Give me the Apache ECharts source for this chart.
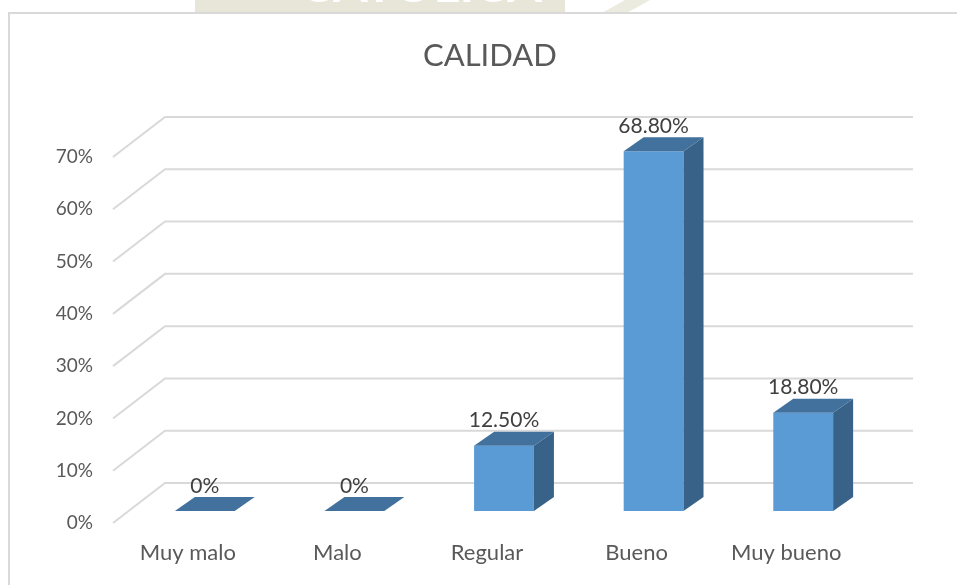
<!DOCTYPE html>
<html>
<head>
<meta charset="utf-8">
<script src="https://cdn.jsdelivr.net/npm/echarts@6/dist/echarts.min.js"></script>
<style>html,body{margin:0;padding:0;background:#fff;}#c{width:957px;height:585px;}</style>
</head>
<body>
<div id="c"></div>
<script>
const titleText = 'CALIDAD';
const categories = ['Muy malo', 'Malo', 'Regular', 'Bueno', 'Muy bueno'];
const values = [0, 0, 0.125, 0.688, 0.188];
const valueLabels = ['0%', '0%', '12.50%', '68.80%', '18.80%'];
const yTicks = [0, 0.1, 0.2, 0.3, 0.4, 0.5, 0.6, 0.7];
const yTickLabels = ['0%', '10%', '20%', '30%', '40%', '50%', '60%', '70%'];

const FONT = 'Lato, "Open Sans", sans-serif';
const WALL = [52, -40];      // depth of the floor (front plane -> back wall)
const BAR_FRONT = [17, -12]; // bar front face offset from front plane
const BAR_DEPTH = [20, -14]; // bar depth

const chart = echarts.init(document.getElementById('c'), null, {renderer: 'canvas'});

const option = {
  backgroundColor: '#ffffff',
  animation: false,
  title: {
    text: titleText,
    left: 423,
    top: 40,
    padding: 0,
    textStyle: {color: '#595959', fontSize: 31, fontWeight: 'normal', fontFamily: FONT}
  },
  graphic: [
    {type: 'rect', silent: true, shape: {x: 195, y: 0, width: 370, height: 14}, style: {fill: '#e7e6d9'}},
    {type: 'text', silent: true, x: 300, y: 11, style: {text: 'CATOLICA', fill: '#ffffff', font: 'bold 50px ' + FONT, textVerticalAlign: 'bottom'}},
    {type: 'polygon', silent: true, shape: {points: [[600, 14], [625, 0], [650, 0], [625, 14]]}, style: {fill: '#ecebe0'}},
    {type: 'rect', silent: true, shape: {x: 9, y: 13, width: 960, height: 590}, style: {fill: '#ffffff', stroke: '#d9d9d9', lineWidth: 2}}
  ],
  grid: {left: 113, right: 96, top: 157, bottom: 62},
  xAxis: {
    type: 'category',
    data: categories,
    axisLine: {show: false},
    axisTick: {show: false},
    splitLine: {show: false},
    axisLabel: {color: '#595959', fontSize: 22, fontFamily: FONT, margin: 19}
  },
  yAxis: {
    type: 'value',
    min: 0,
    max: 0.7,
    interval: 0.1,
    axisLine: {show: false},
    axisTick: {show: false},
    splitLine: {show: false},
    axisLabel: {
      color: '#595959', fontSize: 19, fontFamily: FONT, margin: 20,
      formatter: function (v) { const i = yTicks.findIndex(t => Math.abs(t - v) < 1e-9); return i >= 0 ? yTickLabels[i] : ''; }
    }
  },
  series: [
    {
      type: 'custom',
      name: 'grid',
      silent: true,
      z: 1,
      data: yTicks.map(t => [0, t]),
      renderItem: function (params, api) {
        const cs = params.coordSys;
        const p = api.coord([0, api.value(1)]);
        const y = p[1];
        const x0 = cs.x;
        return {
          type: 'polyline',
          shape: {points: [[x0, y], [x0 + WALL[0], y + WALL[1]], [x0 + cs.width + WALL[0], y + WALL[1]]]},
          style: {stroke: '#d9d9d9', lineWidth: 2, fill: null}
        };
      }
    },
    {
      type: 'custom',
      name: 'CALIDAD',
      z: 3,
      data: values.map((v, i) => [i, v]),
      renderItem: function (params, api) {
        const i = api.value(0);
        const v = api.value(1);
        const base = api.coord([i, 0]);
        const top = api.coord([i, v]);
        const w = api.size([1, 0])[0] * 0.4;
        const cx = base[0] + BAR_FRONT[0];
        const xl = cx - w / 2, xr = cx + w / 2;
        const yb = base[1] + BAR_FRONT[1];
        const yt = top[1] + BAR_FRONT[1];
        const dx = BAR_DEPTH[0], dy = BAR_DEPTH[1];
        const children = [];
        if (yb - yt > 0.5) {
          children.push({type: 'rect', shape: {x: xl, y: yt, width: w, height: yb - yt}, style: {fill: '#5b9bd5'}});
          children.push({type: 'polygon', shape: {points: [[xr, yt], [xr + dx, yt + dy], [xr + dx, yb + dy], [xr, yb]]}, style: {fill: '#386288'}});
        }
        children.push({type: 'polygon', shape: {points: [[xl, yt], [xr, yt], [xr + dx, yt + dy], [xl + dx, yt + dy]]}, style: {fill: '#41719c'}});
        children.push({type: 'text', style: {text: valueLabels[params.dataIndex], x: cx, y: yt - 25, textAlign: 'center', textVerticalAlign: 'middle', fill: '#404040', font: '21px ' + FONT}});
        return {type: 'group', children: children};
      }
    }
  ]
};
chart.setOption(option);
</script>
</body>
</html>
